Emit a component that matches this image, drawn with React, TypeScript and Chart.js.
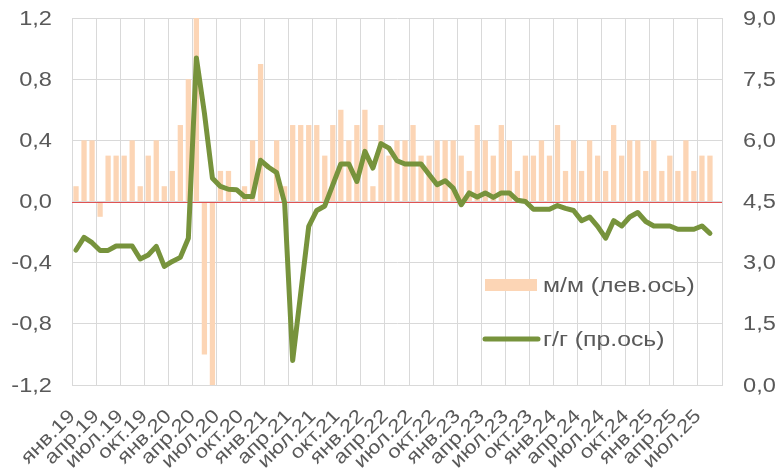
import React, { useEffect, useRef } from 'react';
import { Chart, registerables } from 'chart.js';

Chart.register(...registerables);

const monthNames = ['янв', 'фев', 'мар', 'апр', 'май', 'июн', 'июл', 'авг', 'сен', 'окт', 'ноя', 'дек'];
const yearNames = ['19', '20', '21', '22', '23', '24', '25'];
const monthCount = 81; // янв.19 ... сен.25

const categories: string[] = [];
for (let i = 0; i < monthCount; i++) {
  categories.push(monthNames[i % 12] + '.' + yearNames[Math.floor(i / 12)]);
}

// м/м, % (left axis)
const momValues: (number | null)[] = [
  0.1, 0.4, 0.4, -0.1, 0.3, 0.3, 0.3, 0.4, 0.1, 0.3, 0.4, 0.1,
  0.2, 0.5, 0.8, 1.2, -1.0, -1.2, 0.2, 0.2, 0.0, 0.1, 0.4, 0.9,
  0.0, 0.4, 0.1, 0.5, 0.5, 0.5, 0.5, 0.3, 0.5, 0.6, 0.4, 0.5,
  0.6, 0.1, 0.5, 0.3, 0.4, 0.4, 0.5, 0.3, 0.3, 0.4, 0.4, 0.4,
  0.3, 0.2, 0.5, 0.4, 0.3, 0.5, 0.4, 0.2, 0.3, 0.3, 0.4, 0.3,
  0.5, 0.2, 0.4, 0.2, 0.4, 0.3, 0.2, 0.5, 0.3, 0.4, 0.4, 0.2,
  0.4, 0.2, 0.3, 0.2, 0.4, 0.2, 0.3, 0.3, null,
];

// г/г, % (right axis)
const yoyValues: (number | null)[] = [
  3.31, 3.62, 3.49, 3.30, 3.30, 3.41, 3.41, 3.41, 3.09, 3.19, 3.40, 2.91,
  3.03, 3.13, 3.60, 8.02, 6.67, 5.07, 4.87, 4.80, 4.79, 4.62, 4.62, 5.51,
  5.34, 5.21, 4.46, 0.60, 2.25, 3.89, 4.28, 4.39, 4.91, 5.42, 5.42, 4.99,
  5.73, 5.32, 5.92, 5.81, 5.50, 5.42, 5.42, 5.42, 5.16, 4.91, 5.01, 4.83,
  4.42, 4.71, 4.61, 4.71, 4.60, 4.71, 4.71, 4.53, 4.50, 4.31, 4.31, 4.31,
  4.40, 4.33, 4.28, 4.03, 4.12, 3.89, 3.60, 4.03, 3.90, 4.12, 4.23, 4.01,
  3.90, 3.90, 3.90, 3.82, 3.82, 3.82, 3.90, 3.72, null,
];

const leftAxis = { min: -1.2, max: 1.2, step: 0.4 };
const rightAxis = { min: 0, max: 9, step: 1.5 };
const labelEvery = 3;
const seriesNames = ['м/м (лев.ось)', 'г/г (пр.ось)'];

const BAR_COLOR = '#FCD5B5';
const LINE_COLOR = '#77933C';
const GRID_COLOR = '#D9D9D9';
const ZERO_COLOR = '#E05252';
const TEXT_COLOR = '#595959';
const FONT = "'Liberation Sans', Arial, sans-serif";
const STRETCH = 1.18; // reference text is wider than Arial at the same height

const fmt = (v: number) => {
  const r = Math.abs(v) < 1e-9 ? 0 : v;
  return r.toFixed(1).replace('.', ',');
};

function drawText(
  ctx: CanvasRenderingContext2D,
  text: string,
  x: number,
  y: number,
  align: CanvasTextAlign,
  baseline: CanvasTextBaseline,
  angle = 0,
) {
  ctx.save();
  ctx.translate(x, y);
  if (angle) ctx.rotate(angle);
  ctx.scale(STRETCH, 1);
  ctx.textAlign = align;
  ctx.textBaseline = baseline;
  ctx.fillText(text, 0, 0);
  ctx.restore();
}

const zeroLinePlugin = {
  id: 'zeroLine',
  afterDatasetDraw(chart: any, args: any) {
    if (args.index !== 0) return;
    const { ctx, chartArea } = chart;
    const y = Math.round(chart.scales.y.getPixelForValue(0)) + 0.5;
    ctx.save();
    ctx.strokeStyle = ZERO_COLOR;
    ctx.lineWidth = 1;
    ctx.beginPath();
    ctx.moveTo(chartArea.left, y);
    ctx.lineTo(chartArea.right, y);
    ctx.stroke();
    ctx.restore();
  },
};

const labelsPlugin = {
  id: 'axisLabels',
  afterDraw(chart: any) {
    const { ctx, chartArea, scales } = chart;
    ctx.save();
    ctx.fillStyle = TEXT_COLOR;

    // left axis
    ctx.font = `20px ${FONT}`;
    scales.y.ticks.forEach((t: any) => {
      drawText(ctx, fmt(t.value), chartArea.left - 20, scales.y.getPixelForValue(t.value) + 1, 'right', 'middle');
    });
    // right axis
    scales.y1.ticks.forEach((t: any) => {
      drawText(ctx, fmt(t.value), chartArea.right + 21, scales.y1.getPixelForValue(t.value) + 1, 'left', 'middle');
    });

    // category axis
    ctx.font = `19px ${FONT}`;
    categories.forEach((c, i) => {
      if (i % labelEvery !== 0) return;
      const cx = scales.x.getPixelForValue(i);
      drawText(ctx, c, cx, chartArea.bottom + 32, 'right', 'alphabetic', -Math.PI / 4);
    });

    // legend inside plot area
    const x0 = chartArea.right - 237;
    const y1 = chartArea.bottom - 100;
    const y2 = chartArea.bottom - 46;
    ctx.fillStyle = BAR_COLOR;
    ctx.fillRect(x0, y1 - 6, 52, 12);
    ctx.strokeStyle = LINE_COLOR;
    ctx.lineWidth = 5;
    ctx.lineCap = 'round';
    ctx.beginPath();
    ctx.moveTo(x0, y2);
    ctx.lineTo(x0 + 53, y2);
    ctx.stroke();
    ctx.fillStyle = TEXT_COLOR;
    ctx.font = `21px ${FONT}`;
    drawText(ctx, seriesNames[0], x0 + 58, y1 + 1, 'left', 'middle');
    drawText(ctx, seriesNames[1], x0 + 58, y2 + 1, 'left', 'middle');
    ctx.restore();
  },
};

export default function App() {
  const canvasRef = useRef<HTMLCanvasElement | null>(null);

  useEffect(() => {
    document.body.style.margin = '0';
    const canvas = canvasRef.current;
    if (!canvas) return;
    const chart = new Chart(canvas, {
      type: 'bar',
      data: {
        labels: categories,
        datasets: [
          {
            type: 'bar',
            label: seriesNames[0],
            data: momValues,
            backgroundColor: BAR_COLOR,
            borderWidth: 0,
            yAxisID: 'y',
            barPercentage: 0.66,
            categoryPercentage: 1,
            order: 2,
          },
          {
            type: 'line',
            label: seriesNames[1],
            data: yoyValues,
            borderColor: LINE_COLOR,
            backgroundColor: LINE_COLOR,
            borderWidth: 5,
            pointRadius: 0,
            tension: 0,
            yAxisID: 'y1',
            borderJoinStyle: 'round',
            borderCapStyle: 'round',
            order: 1,
          } as any,
        ],
      },
      options: {
        animation: false,
        responsive: true,
        maintainAspectRatio: false,
        layout: { padding: { left: 0, right: 0, top: 18, bottom: 0 } },
        plugins: {
          legend: { display: false },
          tooltip: { enabled: false },
        },
        scales: {
          x: {
            offset: true,
            grid: {
              offset: true,
              drawTicks: false,
              color: (ctx: any) => (ctx.index % labelEvery === 0 ? GRID_COLOR : 'rgba(0,0,0,0)'),
            },
            border: { color: GRID_COLOR },
            ticks: { display: false, autoSkip: false },
            afterFit: (scale: any) => {
              scale.height = 84;
            },
          },
          y: {
            position: 'left',
            min: leftAxis.min,
            max: leftAxis.max,
            grid: { color: GRID_COLOR, drawTicks: false },
            border: { color: GRID_COLOR },
            ticks: { display: false, stepSize: leftAxis.step },
            afterFit: (scale: any) => {
              scale.width = 72;
            },
          },
          y1: {
            position: 'right',
            min: rightAxis.min,
            max: rightAxis.max,
            grid: { drawOnChartArea: false, drawTicks: false },
            border: { color: GRID_COLOR },
            ticks: { display: false, stepSize: rightAxis.step },
            afterFit: (scale: any) => {
              scale.width = 58;
            },
          },
        },
      },
      plugins: [zeroLinePlugin, labelsPlugin],
    });
    return () => chart.destroy();
  }, []);

  return (
    <div style={{ position: 'relative', width: 780, height: 469 }}>
      <canvas ref={canvasRef} />
    </div>
  );
}
